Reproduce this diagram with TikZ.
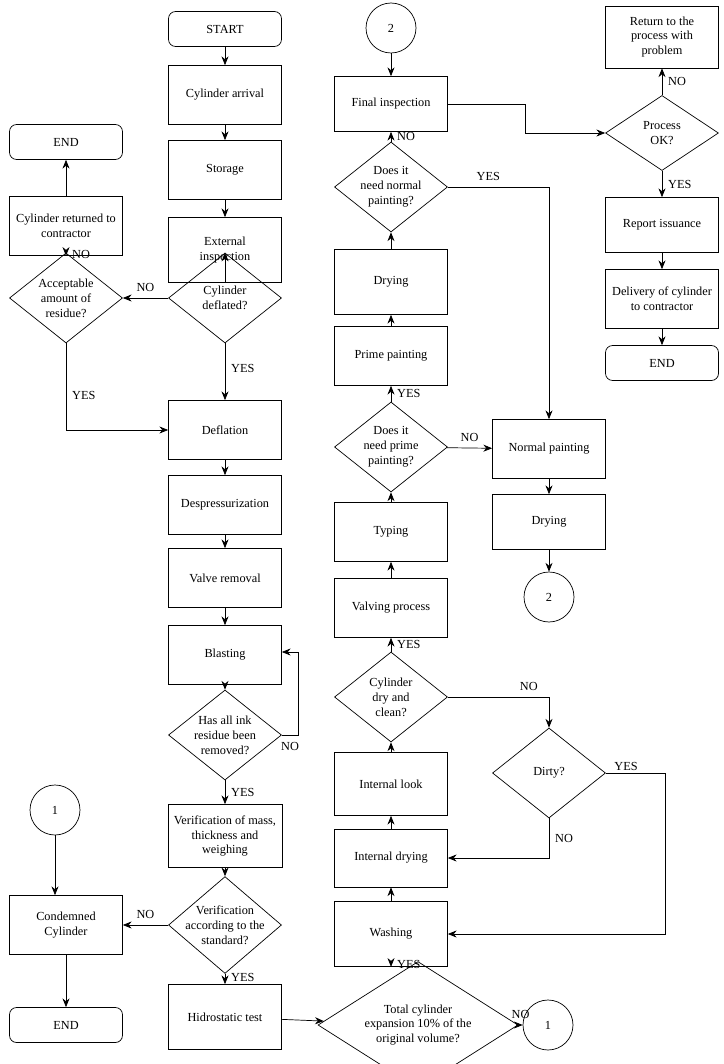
\documentclass[tikz,border=0pt]{standalone}
\usepackage{fontspec}
\setmainfont{Liberation Serif}
\usetikzlibrary{arrows.meta,positioning,shapes.geometric}

\begin{document}
\begin{tikzpicture}[x=0.02cm,y=-0.02cm,
box/.style={rectangle, draw, minimum width=2.26cm, minimum height=1.18cm, font=\fontsize{7}{8.5}\selectfont, align=center},
term/.style={rectangle, rounded corners=4pt, draw, minimum width=2.26cm, minimum height=0.7cm, font=\fontsize{7}{8.5}\selectfont},
dec/.style={diamond, draw, minimum width=2.26cm, minimum height=1.8cm, inner sep=-3pt, font=\fontsize{7}{8.5}\selectfont, align=center},
conn/.style={circle, draw, minimum size=1cm, font=\fontsize{7}{8.5}\selectfont},
arrow/.style={-{Stealth[length=5pt,width=4pt]}},
lbl/.style={font=\fontsize{7}{8.5}\selectfont}
]
\useasboundingbox (0,0) rectangle (723,1064);

% Main column
\node[term] (start) at (225,29) {START};
\node[box] (arrival) at (225,95) {Cylinder arrival};
\node[box] (storage) at (225,170) {Storage};
\node[box, minimum height=1.3cm] (extinsp) at (225,250) {External\\inspection};
\node[dec] (deflated) at (225,298) {Cylinder\\deflated?};
\node[box] (deflation) at (225,430) {Deflation};
\node[box] (depress) at (225,505) {Despressurization};
\node[box] (valve) at (225,578) {Valve removal};
\node[box] (blasting) at (225,655) {Blasting};
\node[dec] (inkrem) at (225,735) {Has all ink\\residue been\\removed?};
\node[box, minimum height=1.26cm] (verifmass) at (225,836) {Verification of mass,\\thickness and\\weighing};
\node[dec] (verifstd) at (225,925) {Verification\\according to the\\standard?};
\node[box, minimum height=1.3cm] (hydro) at (225,1017) {Hidrostatic test};

% Left column
\node[term] (endA) at (66,142) {END};
\node[box] (returned) at (66,226) {Cylinder returned to\\contractor};
\node[dec] (acceptable) at (66,298) {Acceptable\\amount of\\residue?};
\node[conn] (conn1a) at (55,810) {1};
\node[box] (condemned) at (66,925) {Condemned\\Cylinder};
\node[term] (endB) at (66,1025) {END};

% Middle column
\node[conn] (conn2a) at (391,28) {2};
\node[box, minimum height=1.1cm] (finalinsp) at (391,104) {Final inspection};
\node[dec] (normalq) at (391,187) {Does it\\need normal\\painting?};
\node[box, minimum height=1.3cm] (drying1) at (391,282) {Drying};
\node[box] (prime) at (391,356) {Prime painting};
\node[dec] (primeq) at (391,447) {Does it\\need prime\\painting?};
\node[box] (typing) at (391,532) {Typing};
\node[box] (valving) at (391,608) {Valving process};
\node[dec] (dryclean) at (391,697) {Cylinder\\dry and\\clean?};
\node[box, minimum height=1.26cm] (intlook) at (391,784) {Internal look};
\node[box, minimum height=1.16cm] (intdry) at (391,858) {Internal drying};
\node[box, minimum height=1.3cm] (washing) at (391,934) {Washing};
\node[dec, minimum width=4cm, minimum height=1.64cm] (expansion) at (418,1025) {Total cylinder\\expansion 10\% of the\\original volume?};
\node[conn] (conn1b) at (548,1025) {1};
\node[dec] (dirty) at (549,773) {Dirty?};

% Right columns
\node[box] (normal) at (549,449) {Normal painting};
\node[box, minimum height=1.1cm] (drying2) at (549,522) {Drying};
\node[conn] (conn2b) at (549,597) {2};
\node[box, minimum height=1.24cm] (returnproc) at (662,37) {Return to the\\process with\\problem};
\node[dec, minimum height=1.5cm] (processok) at (662,133) {Process\\OK?};
\node[box, minimum height=1.1cm] (report) at (662,225) {Report issuance};
\node[box] (delivery) at (662,299) {Delivery of cylinder\\to contractor};
\node[term] (endC) at (662,363) {END};

% Main flow
\draw[arrow] (start) -- (arrival);
\draw[arrow] (arrival) -- (storage);
\draw[arrow] (storage) -- (extinsp);
\draw[arrow] (extinsp) -- (deflated);
\draw[arrow] (deflated) -- (deflation) node[pos=0.45, right, lbl] {YES};
\draw[arrow] (deflated) -- (acceptable) node[midway, above, lbl] {NO};
\draw[arrow] (acceptable) -- (returned) node[midway, right, lbl] {NO};
\draw[arrow] (returned) -- (endA);
\draw[arrow] (acceptable.south) |- (deflation.west) node[pos=0.3, right, lbl] {YES};
\draw[arrow] (deflation) -- (depress);
\draw[arrow] (depress) -- (valve);
\draw[arrow] (valve) -- (blasting);
\draw[arrow] (blasting) -- (inkrem);
\coordinate (inkturn) at (298,652);
\draw[arrow] (inkrem.east) -| (inkturn) -- (blasting.east |- inkturn);
\node[lbl] at (290,746) {NO};
\draw[arrow] (inkrem) -- (verifmass) node[midway, right, lbl] {YES};
\draw[arrow] (verifmass) -- (verifstd);
\draw[arrow] (verifstd) -- (condemned) node[midway, above, lbl] {NO};
\draw[arrow] (verifstd) -- (hydro) node[pos=0.4, right, lbl] {YES};
\draw[arrow] (conn1a) -- (conn1a |- condemned.north);
\draw[arrow] (condemned) -- (endB);
\draw[arrow] (hydro) -- (expansion);
\draw[arrow] (expansion) -- (conn1b) node[midway, above, lbl] {NO};

% Middle flow (upwards)
\draw[arrow] (expansion.north -| washing) -- (washing) node[midway, right, lbl] {YES};
\draw[arrow] (washing) -- (intdry);
\draw[arrow] (intdry) -- (intlook);
\draw[arrow] (intlook) -- (dryclean);
\draw[arrow] (dryclean) -- (valving) node[midway, right, lbl] {YES};
\draw[arrow] (dryclean.east) -| (dirty.north) node[pos=0.4, above, lbl] {NO};
\draw[arrow] (dirty.south) |- (intdry.east) node[pos=0.25, right, lbl] {NO};
\coordinate (dirtyturn) at (665,773);
\draw[arrow] (dirty.east) -- (dirtyturn) |- (washing.east);
\node[lbl] at (626,766) {YES};
\draw[arrow] (valving) -- (typing);
\draw[arrow] (typing) -- (primeq);
\draw[arrow] (primeq) -- (prime) node[midway, right, lbl] {YES};
\draw[arrow] (primeq) -- (normal) node[midway, above, lbl] {NO};
\draw[arrow] (prime) -- (drying1);
\draw[arrow] (drying1) -- (normalq);
\draw[arrow] (normalq) -- (finalinsp) node[midway, right, lbl] {NO};
\draw[arrow] (normalq.east) -| (normal.north) node[pos=0.2, above, lbl] {YES};
\draw[arrow] (normal) -- (drying2);
\draw[arrow] (drying2) -- (conn2b);
\draw[arrow] (conn2a) -- (finalinsp);

% Final steps
\coordinate (finalturn) at (525,104);
\draw[arrow] (finalinsp.east) -- (finalturn) |- (processok.west);
\draw[arrow] (processok) -- (returnproc) node[midway, right, lbl] {NO};
\draw[arrow] (processok) -- (report) node[midway, right, lbl] {YES};
\draw[arrow] (report) -- (delivery);
\draw[arrow] (delivery) -- (endC);

\end{tikzpicture}
\end{document}
